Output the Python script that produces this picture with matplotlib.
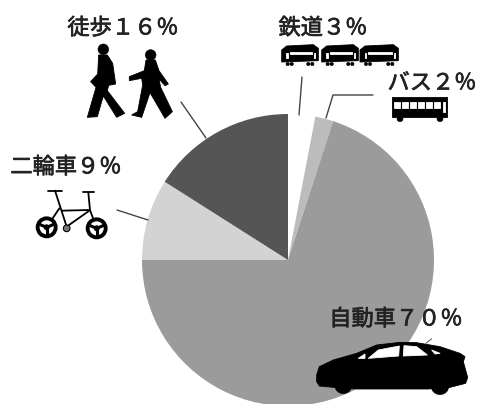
import matplotlib
matplotlib.use("Agg")
import matplotlib.pyplot as plt
import matplotlib.patheffects as pe
from matplotlib.patches import Polygon, Circle

plt.rcParams['font.family'] = ['Noto Sans CJK JP', 'DejaVu Sans']

categories = ["鉄道", "バス", "自動車", "二輪車", "徒歩"]
shares = [3, 2, 70, 9, 16]
share_labels = ["３％", "２％", "７０％", "９％", "１６％"]
slice_colors = ["#ffffff", "#bcbcbc", "#9b9b9b", "#d3d3d3", "#555555"]

H = 404


def flip(pts, ox=0, oy=0, s=1 / 3):
    # picture pixels (y down, zoomed crops) to axes coords
    return [(ox + x * s, H - (oy + y * s)) for x, y in pts]


def shape(ax, pts, ox, oy, color="black"):
    ax.add_patch(Polygon(flip(pts, ox, oy), closed=True, fc=color, ec=color, lw=0.6,
                         joinstyle="round", zorder=5))


def dot(ax, x, y, r, ox, oy, fc="black", ec="black", lw=0.4):
    p = flip([(x, y)], ox, oy)[0]
    ax.add_patch(Circle(p, r / 3, fc=fc, ec=ec, lw=lw, zorder=6))


def box(ax, x0, y0, x1, y1, ox, oy, color="black"):
    shape(ax, [(x0, y0), (x1, y0), (x1, y1), (x0, y1)], ox, oy, color)


def seg(ax, pts, color="black", lw=1.0, ox=0, oy=0, s=1, z=4):
    xy = flip(pts, ox, oy, s)
    ax.plot([p[0] for p in xy], [p[1] for p in xy], color=color, lw=lw, zorder=z,
            solid_capstyle="round")


fig = plt.figure(figsize=(4.8, 4.04), dpi=100)
ax = fig.add_axes([0, 0, 1, 1])

ax.pie(shares, colors=slice_colors, startangle=90, counterclock=False,
       center=(288, H - 260), radius=146, frame=True)
ax.set_xlim(0, 480)
ax.set_ylim(0, H)
ax.set_aspect("auto")
ax.axis("off")

# leader lines
seg(ax, [(302, 77), (299, 115)], color="#444444")
seg(ax, [(326, 118), (333, 95), (373, 95)], color="#444444")
seg(ax, [(181, 102), (206, 138)], color="#444444")
seg(ax, [(117, 210), (148, 220)], color="#444444")

# labels
label_pos = [(323, 28), (432, 83), (396, 319), (66, 167), (123, 28)]
for name, pct, (x, y) in zip(categories, share_labels, label_pos):
    ax.text(x, H - y, name + pct, ha="center", va="center", fontsize=16, color="#222222", zorder=7,
            path_effects=[pe.withStroke(linewidth=0.5, foreground="#222222")])

# walkers
ox, oy = 0, 0
dot(ax, 310, 148, 16, ox, oy)
shape(ax, [(296, 165), (322, 165), (338, 190), (347, 252), (326, 256), (322, 272), (374, 340), (350, 352),
           (310, 288), (292, 350), (262, 352), (288, 262), (272, 245), (293, 222)], ox, oy)
dot(ax, 452, 165, 16, ox, oy)
shape(ax, [(438, 180), (466, 180), (477, 212), (505, 252), (495, 257), (477, 237), (482, 262), (517, 335),
           (495, 355), (450, 278), (425, 352), (395, 345), (413, 335), (428, 255), (425, 235), (388, 242),
           (388, 230), (433, 212)], ox, oy)

# bicycle
for cx, cy in [(140, 682), (290, 685)]:
    dot(ax, cx, cy, 27, ox, oy, fc="white", lw=2.8)
    dot(ax, cx, cy, 8, ox, oy)
    for px, py in [(cx - 24, cy - 10), (cx + 24, cy - 10), (cx, cy + 26)]:
        seg(ax, [(cx, cy), (px, py)], lw=2.2, s=1 / 3, z=7)
for line in [[(165, 572), (200, 680)], [(143, 572), (185, 572)], [(185, 632), (268, 630)],
             [(265, 578), (270, 630), (290, 685)], [(140, 682), (178, 625)], [(200, 680), (268, 632)],
             [(250, 577), (282, 577)]]:
    seg(ax, line, lw=1.3, s=1 / 3)
dot(ax, 200, 685, 10, ox, oy, fc="#777777", lw=0.8)

# train
ox, oy = 250, 0
for x0, x1 in [(95, 205), (215, 325), (330, 445)]:
    shape(ax, [(x0, 150), (x0 + 15, 138), (x1 - 15, 134), (x1, 145), (x1, 182), (x0, 186)], ox, oy)
    box(ax, x0 + 24, 156, x1 - 18, 161, ox, oy, "white")
    for wx in [x0 + 18, x0 + 30, x1 - 30, x1 - 18]:
        dot(ax, wx, 192, 5, ox, oy)
    box(ax, x0 + 14, 158, x0 + 19, 174, ox, oy, "white")
    box(ax, x1 - 14, 158, x1 - 9, 174, ox, oy, "white")

# bus
box(ax, 425, 292, 592, 352, ox, oy)
for wx in range(432, 570, 24):
    box(ax, wx, 306, wx + 18, 324, ox, oy, "white")
box(ax, 578, 306, 586, 335, ox, oy, "white")
dot(ax, 450, 356, 9, ox, oy)
dot(ax, 570, 356, 9, ox, oy)

# car
ox, oy = 300, 290
seg(ax, [(378, 160), (395, 146)], color="#666666", lw=0.8, ox=ox, oy=oy, s=1 / 3)
shape(ax, [(50, 255), (58, 230), (100, 210), (170, 190), (230, 165), (300, 157), (350, 158), (420, 170),
           (480, 190), (495, 200), (490, 215), (503, 262), (497, 280), (450, 292), (385, 297), (165, 297),
           (100, 292), (58, 288), (50, 275)], ox, oy)
dot(ax, 130, 285, 26, ox, oy)
dot(ax, 420, 287, 27, ox, oy)
shape(ax, [(205, 205), (235, 180), (298, 168), (296, 198)], ox, oy, "white")
shape(ax, [(312, 167), (350, 170), (382, 195), (310, 198)], ox, oy, "white")
shape(ax, [(395, 180), (420, 190), (405, 192)], ox, oy, "white")
shape(ax, [(175, 205), (195, 192), (195, 205)], ox, oy, "white")

fig.savefig("out.png", dpi=100)
